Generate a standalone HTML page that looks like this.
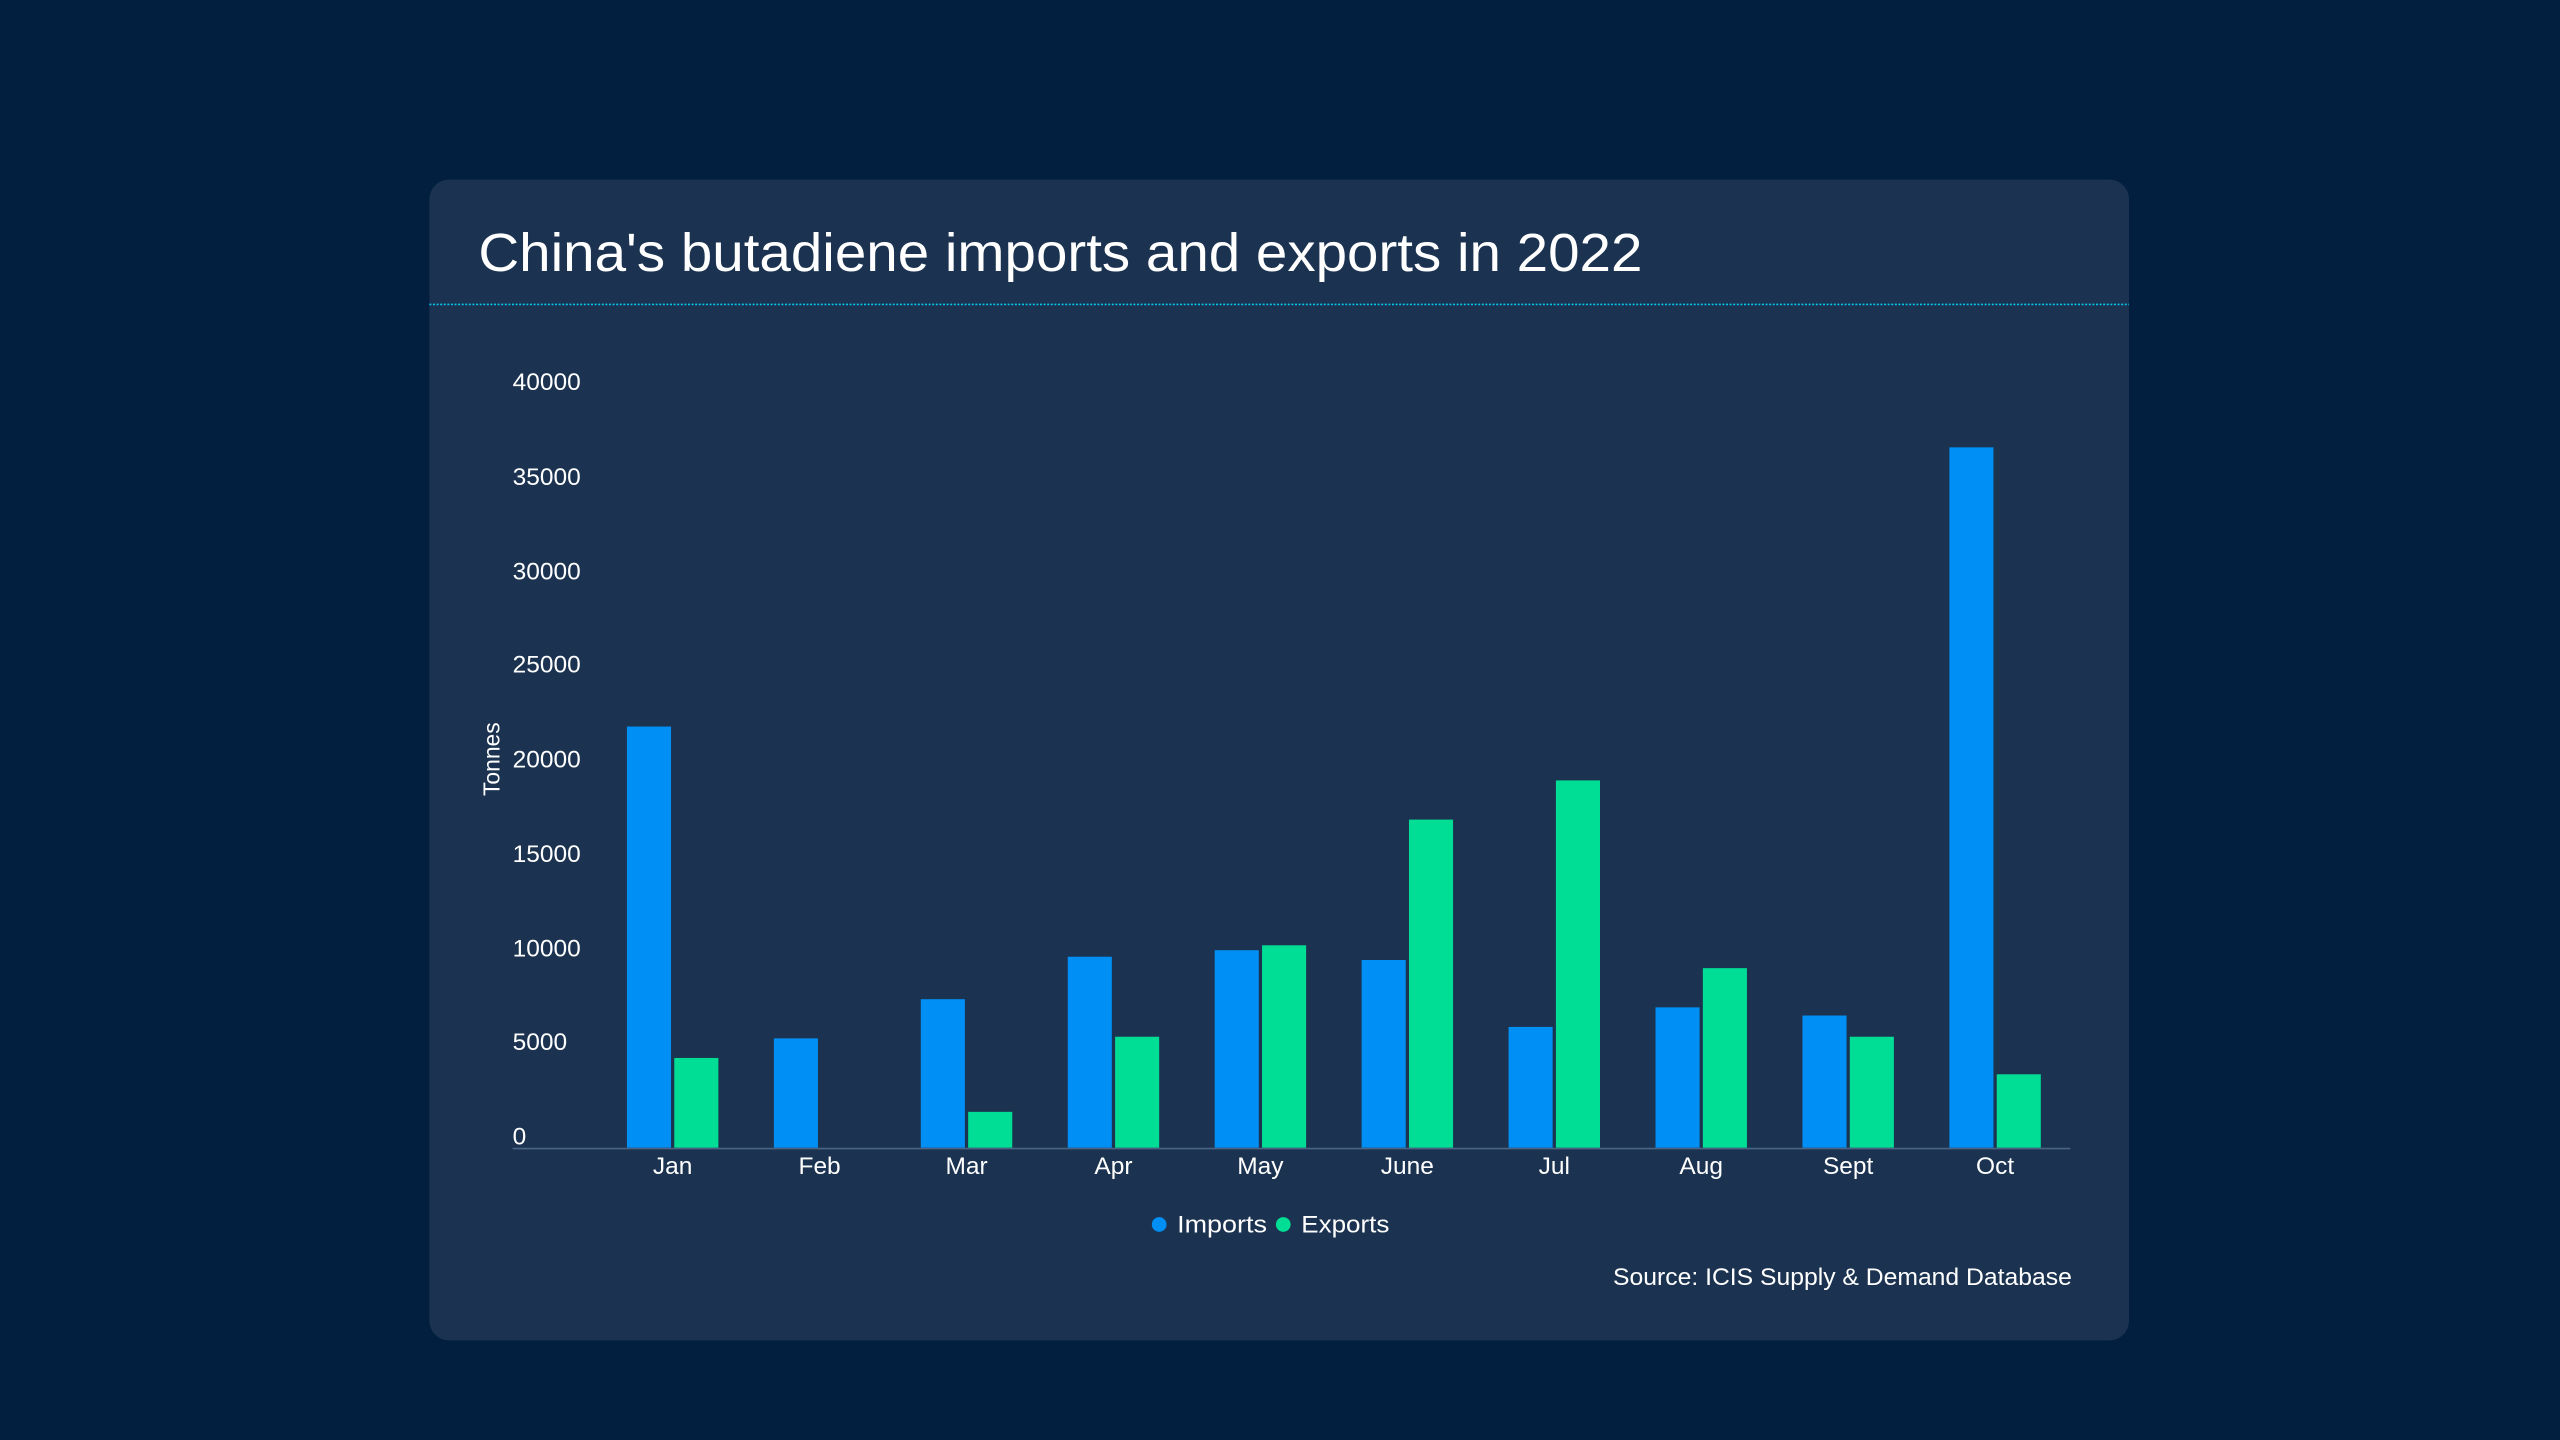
<!DOCTYPE html>
<html><head><meta charset="utf-8"><style>
html,body{margin:0;padding:0;background:#021f40;}
svg{display:block;}
text{font-family:"Liberation Sans",sans-serif;fill:#fff;}
</style></head><body>
<svg width="2560" height="1440" viewBox="0 0 1568 882" xmlns="http://www.w3.org/2000/svg">
<rect width="1568" height="882" fill="#021f40"/>
<rect x="263" y="110" width="1041" height="711" rx="12" fill="#1b3350"/>
<text x="293" y="166" font-size="33" textLength="713" lengthAdjust="spacingAndGlyphs">China's butadiene imports and exports in 2022</text>
<line x1="263" y1="186.5" x2="1304" y2="186.5" stroke="#00c8ee" stroke-width="1" stroke-dasharray="1.2,1"/>
<g font-size="15">
<text x="314" y="239">40000</text>
<text x="314" y="297">35000</text>
<text x="314" y="355">30000</text>
<text x="314" y="412">25000</text>
<text x="314" y="470">20000</text>
<text x="314" y="528">15000</text>
<text x="314" y="586">10000</text>
<text x="314" y="643">5000</text>
<text x="314" y="701">0</text>
</g>
<text transform="translate(306,465) rotate(-90)" font-size="14" text-anchor="middle">Tonnes</text>
<g fill="#008ff5">
<rect x="384" y="445" width="27" height="258"/>
<rect x="474" y="636" width="27" height="67"/>
<rect x="564" y="612" width="27" height="91"/>
<rect x="654" y="586" width="27" height="117"/>
<rect x="744" y="582" width="27" height="121"/>
<rect x="834" y="588" width="27" height="115"/>
<rect x="924" y="629" width="27" height="74"/>
<rect x="1014" y="617" width="27" height="86"/>
<rect x="1104" y="622" width="27" height="81"/>
<rect x="1194" y="274" width="27" height="429"/>
</g>
<g fill="#00de95">
<rect x="413" y="648" width="27" height="55"/>
<rect x="593" y="681" width="27" height="22"/>
<rect x="683" y="635" width="27" height="68"/>
<rect x="773" y="579" width="27" height="124"/>
<rect x="863" y="502" width="27" height="201"/>
<rect x="953" y="478" width="27" height="225"/>
<rect x="1043" y="593" width="27" height="110"/>
<rect x="1133" y="635" width="27" height="68"/>
<rect x="1223" y="658" width="27" height="45"/>
</g>
<line x1="314" y1="703.5" x2="1268" y2="703.5" stroke="#4a6584" stroke-width="1"/>
<g font-size="15" text-anchor="middle">
<text x="412" y="719">Jan</text>
<text x="502" y="719">Feb</text>
<text x="592" y="719">Mar</text>
<text x="682" y="719">Apr</text>
<text x="772" y="719">May</text>
<text x="862" y="719">June</text>
<text x="952" y="719">Jul</text>
<text x="1042" y="719">Aug</text>
<text x="1132" y="719">Sept</text>
<text x="1222" y="719">Oct</text>
</g>
<circle cx="710" cy="750" r="4.5" fill="#008ff5"/>
<text x="721" y="755" font-size="15" textLength="55" lengthAdjust="spacingAndGlyphs">Imports</text>
<circle cx="786" cy="750" r="4.5" fill="#00de95"/>
<text x="797" y="755" font-size="15" textLength="54" lengthAdjust="spacingAndGlyphs">Exports</text>
<text x="1269" y="787" font-size="15" text-anchor="end" textLength="281" lengthAdjust="spacingAndGlyphs">Source: ICIS Supply &amp; Demand Database</text>
</svg>
</body></html>
